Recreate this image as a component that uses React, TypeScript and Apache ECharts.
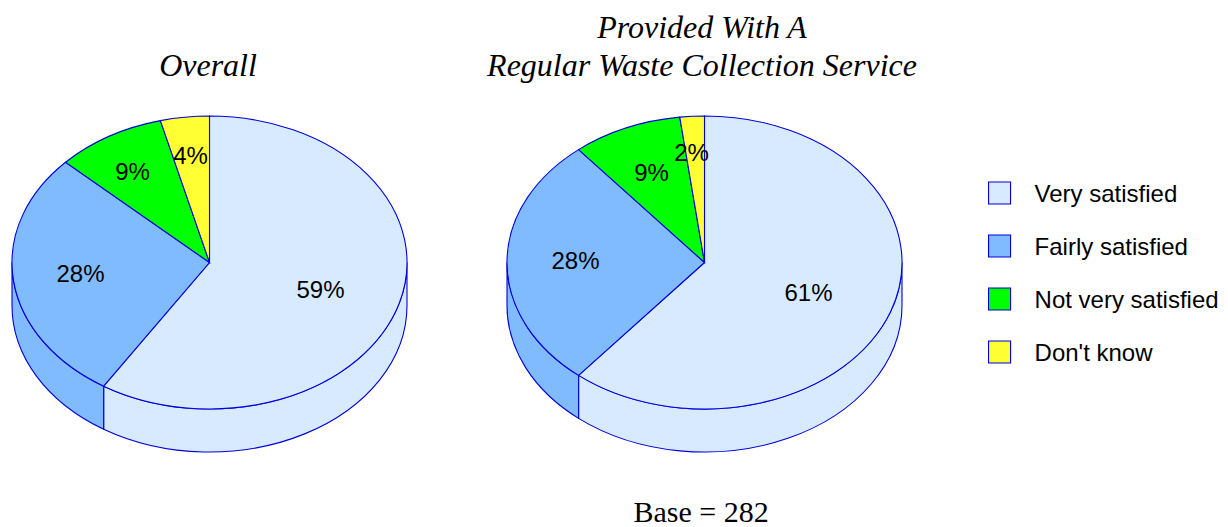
import React, { useEffect, useRef } from "react";
import * as echarts from "echarts";

const categories = ["Very satisfied", "Fairly satisfied", "Not very satisfied", "Don't know"];
const overallValues = [59, 28, 9, 4];
const regularValues = [61, 28, 9, 2];
const overallTitle = "Overall";
const regularTitle = "Provided With A\nRegular Waste Collection Service";
const baseNote = "Base = 282";
const colors = ["#D7EAFF", "#80BBFF", "#00FF00", "#FFFF33"];

const STROKE = "#0000DD";
const RX = 197.5;
const RY = 146.5;
const DEPTH = 43;
const CY = 262.5;
const SERIF = "'Liberation Serif', serif";
const SANS = "'Liberation Sans', Arial, sans-serif";

// Label placement relative to each pie's centre, per slice.
const overallLabelOffset = [[111, 27], [-129, 11], [-77, -91], [-19, -107]];
const regularLabelOffset = [[104, 30], [-129, -2], [-53, -90], [-13, -110]];

const pt = (cx: number, cy: number, deg: number) => {
  const a = (deg * Math.PI) / 180;
  return [cx + RX * Math.sin(a), cy - RY * Math.cos(a)];
};
const fx = (n: number) => n.toFixed(2);

function pieSeries(values: number[], cx: number, labelOffset: number[][]) {
  let cum = 0;
  return values.map((v, i) => {
    const start = cum;
    cum += v;
    return {
      type: "custom",
      name: categories[i],
      coordinateSystem: "none",
      silent: true,
      clip: false,
      itemStyle: { color: colors[i], borderColor: STROKE, borderWidth: 1 },
      data: [[v, start]],
      renderItem: (_p: any, api: any) => {
        const value = api.value(0) as number;
        const from = ((api.value(1) as number) / 100) * 360;
        const to = from + (value / 100) * 360;
        const fill = api.visual("color");
        const style = { fill, stroke: STROKE, lineWidth: 1.1 };
        const children: any[] = [];
        const wFrom = Math.max(from, 90);
        const wTo = Math.min(to, 270);
        if (wTo > wFrom) {
          const a = pt(cx, CY, wFrom);
          const b = pt(cx, CY, wTo);
          children.push({
            type: "path",
            shape: {
              pathData: `M${fx(a[0])} ${fx(a[1])}A${RX} ${RY} 0 0 1 ${fx(b[0])} ${fx(b[1])}L${fx(b[0])} ${fx(b[1] + DEPTH)}A${RX} ${RY} 0 0 0 ${fx(a[0])} ${fx(a[1] + DEPTH)}Z`,
            },
            style,
          });
        }
        const p1 = pt(cx, CY, from);
        const p2 = pt(cx, CY, to);
        const large = to - from > 180 ? 1 : 0;
        children.push({
          type: "path",
          shape: {
            pathData: `M${cx} ${CY}L${fx(p1[0])} ${fx(p1[1])}A${RX} ${RY} 0 ${large} 1 ${fx(p2[0])} ${fx(p2[1])}Z`,
          },
          style,
        });
        const [dx, dy] = labelOffset[i];
        children.push({
          type: "text",
          x: cx + dx,
          y: CY + dy,
          style: {
            text: `${value}%`,
            fill: "#000",
            font: `24px ${SANS}`,
            align: "center",
            verticalAlign: "middle",
          },
        });
        return { type: "group", children };
      },
    };
  });
}

export default function App() {
  const ref = useRef<HTMLDivElement>(null);
  useEffect(() => {
    const chart = echarts.init(ref.current!, null, { renderer: "svg" });
    const titleText = {
      fontFamily: SERIF,
      fontStyle: "italic" as const,
      fontWeight: "normal" as const,
      fontSize: 32,
      lineHeight: 38,
      color: "#000",
    };
    chart.setOption({
      animation: false,
      backgroundColor: "#fff",
      title: [
        { text: overallTitle, left: 208, top: 46, textAlign: "center", padding: 0, textStyle: titleText },
        { text: regularTitle, left: 702, top: 8, textAlign: "center", padding: 0, textStyle: titleText },
        {
          text: baseNote,
          left: 701,
          top: 497,
          textAlign: "center",
          padding: 0,
          textStyle: { fontFamily: SERIF, fontWeight: "normal", fontSize: 30, lineHeight: 29, color: "#000" },
        },
      ],
      legend: {
        data: categories,
        orient: "vertical",
        left: 988,
        top: 181,
        padding: 0,
        itemWidth: 22,
        itemHeight: 22,
        itemGap: 29,
        icon: "rect",
        selectedMode: false,
        itemStyle: { borderColor: STROKE, borderWidth: 1.1 },
        textStyle: { fontFamily: SANS, fontSize: 24, lineHeight: 24, color: "#000", padding: [0, 0, 0, 19] },
      },
      series: [...pieSeries(overallValues, 209.5, overallLabelOffset), ...pieSeries(regularValues, 704.5, regularLabelOffset)],
    });
    return () => chart.dispose();
  }, []);
  return <div ref={ref} style={{ position: "absolute", left: 0, top: 0, width: 1228, height: 527 }} />;
}
